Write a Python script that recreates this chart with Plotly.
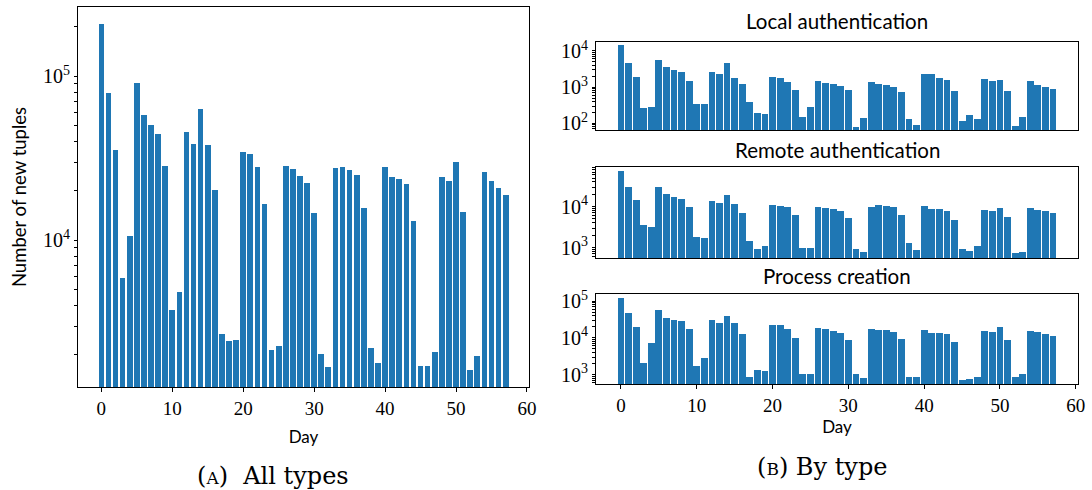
import plotly.graph_objects as go

days = list(range(58))

all_types = [207000, 78800, 35400, 5890, 10570, 90600, 57800, 50200, 44300, 28200,
             3740, 4820, 45600, 38500, 62900, 37900, 20200, 2670, 2420, 2460,
             34400, 33500, 27900, 16600, 2130, 2260, 28200, 27100, 24600, 22300,
             14600, 2020, 1680, 27500, 27900, 26700, 24900, 15700, 2190, 1780,
             27900, 24200, 23500, 21900, 13100, 1710, 1710, 2080, 24200, 22900,
             29900, 14800, 1630, 1960, 26000, 22900, 20800, 18800]

local_auth = [14400, 4580, 1880, 264, 281, 5540, 3550, 2940, 2590, 1460,
              340, 340, 2590, 2280, 4580, 1770, 1210, 386, 192, 180,
              1880, 1770, 1370, 827, 149, 281, 1460, 1290, 1210, 1070,
              827, 79, 140, 1370, 1210, 1140, 1000, 728, 131, 90,
              2280, 2280, 1770, 1560, 776, 116, 169, 131, 1660, 1460,
              1560, 776, 84, 149, 1460, 1140, 1000, 882]

remote_auth = [75400, 30500, 14600, 3550, 3170, 30500, 20500, 17300, 15500, 9840,
               1800, 1700, 13800, 12300, 19400, 11600, 7000, 1440, 912, 1080,
               11000, 10400, 9840, 6250, 966, 966, 9840, 9300, 8790, 7840,
               5280, 912, 771, 9840, 11000, 10400, 9840, 6250, 1280, 862,
               10400, 8790, 8790, 7840, 4710, 912, 815, 1080, 8300, 7840,
               9300, 5580, 728, 771, 9300, 8300, 7840, 7000]

process_creation = [120700, 47100, 19600, 2050, 7180, 56900, 34400, 30400, 28500, 17300,
                    1690, 2800, 30400, 25200, 39000, 25200, 12600, 849, 1320, 1240,
                    22200, 22200, 17300, 9820, 1030, 1030, 18400, 17300, 15200, 13400,
                    8650, 1030, 798, 17300, 16200, 16200, 14300, 9230, 849, 849,
                    16200, 13400, 13400, 12600, 7640, 704, 748, 849, 15200, 14300,
                    19600, 8650, 849, 1030, 15200, 14300, 12600, 11100]

subtitles = ["Local authentication", "Remote authentication", "Process creation"]
x_ticks = [0, 10, 20, 30, 40, 50, 60]
y_tick_vals = [m * 10 ** k for k in range(1, 6) for m in range(1, 10)]
y_tick_text = [f"10<sup>{k}</sup>" if m == 1 else "" for k in range(1, 6) for m in range(1, 10)]

BLUE = "#1f77b4"
SERIF = "Liberation Serif"
CAPSERIF = "DejaVu Serif"
SANS = "Lato"

W, H = 1092, 490
def fx(a, b):
    return [a / W, b / W]
def fy(top, bottom):
    return [1 - bottom / H, 1 - top / H]

fig = go.Figure()

series = [all_types, local_auth, remote_auth, process_creation]
widths = [0.8, 0.9, 0.9, 0.9]
for i, s in enumerate(series):
    sfx = "" if i == 0 else str(i + 1)
    fig.add_trace(go.Bar(x=days, y=s, width=widths[i], marker=dict(color=BLUE, line=dict(width=0)),
                         xaxis=f"x{sfx}", yaxis=f"y{sfx}", showlegend=False))

axis_common = dict(showline=True, linecolor="black", linewidth=1.2, mirror=True,
                   showgrid=False, zeroline=False, automargin=False)

xr = [-3.29, 60.29]
left_x = fx(78, 529)
right_x = fx(596, 1078)
panels = [
    (left_x, fy(7, 387), [3.1055, 5.4226]),
    (right_x, fy(42, 130), [1.815, 4.248]),
    (right_x, fy(167, 258), [2.745, 4.968]),
    (right_x, fy(294, 384), [2.744, 5.191]),
]

layout = dict(width=W, height=H, margin=dict(l=0, r=0, t=0, b=0),
              plot_bgcolor="white", paper_bgcolor="white", bargap=0)

for i, (dx, dy, yr) in enumerate(panels):
    sfx = "" if i == 0 else str(i + 1)
    show_x = (i == 0 or i == 3)
    xa = dict(domain=dx, anchor=f"y{sfx}", range=xr, tickvals=x_ticks,
              ticks="outside" if show_x else "", ticklen=4, tickwidth=1.2, tickcolor="black",
              showticklabels=show_x,
              tickfont=dict(family=SERIF, size=19, color="black"), **axis_common)
    if show_x:
        xa["title"] = dict(text="Day", font=dict(family=SANS, size=17, color="black"),
                           standoff=13 if i == 0 else 0)
    ya = dict(domain=dy, anchor=f"x{sfx}", type="log", range=yr,
              tickmode="array", tickvals=y_tick_vals, ticktext=y_tick_text,
              ticks="outside", ticklen=3, tickwidth=1, tickcolor="black",
              tickfont=dict(family=SERIF, size=20, color="black"), **axis_common)
    if i == 0:
        ya["title"] = dict(text="Number of new tuples", font=dict(family=SANS, size=18.5, color="black"),
                           standoff=11)
    layout[f"xaxis{sfx}"] = xa
    layout[f"yaxis{sfx}"] = ya

fig.update_layout(**layout)

title_y = [21, 150, 276]
for t, yy in zip(subtitles, title_y):
    fig.add_annotation(text=t, x=(596 + 1078) / 2 / W, y=1 - yy / H, xref="paper", yref="paper",
                       showarrow=False, xanchor="center", yanchor="middle",
                       font=dict(family=SANS, size=20.5, color="black"))

fig.add_annotation(text="(<span style='font-size:17px'>A</span>)&nbsp; All types", x=273 / W, y=1 - 476 / H,
                   xref="paper", yref="paper", showarrow=False, xanchor="center", yanchor="middle",
                   font=dict(family=CAPSERIF, size=24, color="black"))
fig.add_annotation(text="(<span style='font-size:17px'>B</span>) By type", x=822 / W, y=1 - 467 / H,
                   xref="paper", yref="paper", showarrow=False, xanchor="center", yanchor="middle",
                   font=dict(family=CAPSERIF, size=24, color="black"))

fig.write_html("out.html")
